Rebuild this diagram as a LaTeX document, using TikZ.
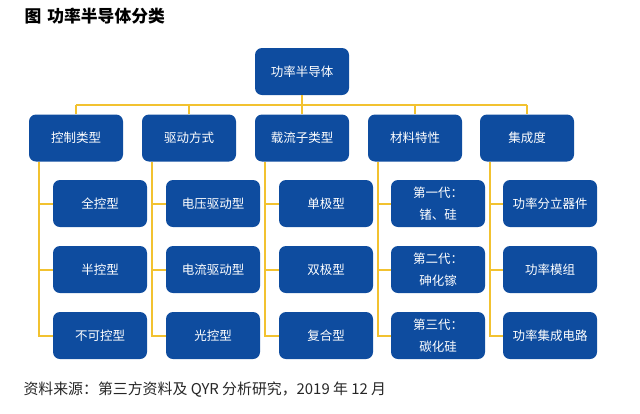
\documentclass[tikz,border=0pt]{standalone}
\usepackage{fontspec}
\setmainfont{Noto Sans CJK SC}
\definecolor{boxblue}{HTML}{0E4C9F}
\definecolor{lineyellow}{HTML}{F2C230}
\tikzset{
	catbox/.style={draw=none, fill=boxblue, rounded corners=7pt, minimum width=94pt, minimum height=47pt, text=white, font=\fontsize{12.5}{16}\selectfont, align=center, inner sep=0pt},
	genbox/.style={catbox, font=\fontsize{12.5}{22}\selectfont},
	link/.style={draw=lineyellow, line width=2pt}
}
\begin{document}
\begin{tikzpicture}[x=1pt, y=-1pt]
		\useasboundingbox (0, 0) rectangle (640, 413);
		\node[anchor=west, font=\fontsize{16.8}{18}\selectfont\bfseries] (title) at (21, 16) {图\hspace{6pt}功率半导体分类};
		\node[catbox] (root) at (302, 71.5) {功率半导体};
		% first level
		\node[catbox] (ctrl) at (76, 138) {控制类型};
		\node[catbox] (drive) at (189, 138) {驱动方式};
		\node[catbox] (carrier) at (302, 138) {载流子类型};
		\node[catbox] (mat) at (415, 138) {材料特性};
		\node[catbox] (integ) at (527, 138) {集成度};
		\coordinate (busl) at (76, 104.5);
		\coordinate (busr) at (527, 104.5);
		\draw[link] (busl) -- (busr);
		\draw[link] (root.south) -- (root.south |- busl);
		\draw[link] (ctrl.north) -- (ctrl.north |- busl);
		\draw[link] (drive.north) -- (drive.north |- busl);
		\draw[link] (carrier.north) -- (carrier.north |- busl);
		\draw[link] (mat.north) -- (mat.north |- busl);
		\draw[link] (integ.north) -- (integ.north |- busl);
		% second level
		\node[catbox] (full) at (100, 203.5) {全控型};
		\node[catbox] (half) at (100, 269.5) {半控型};
		\node[catbox] (none) at (100, 335.5) {不可控型};
		\node[catbox] (volt) at (213, 203.5) {电压驱动型};
		\node[catbox] (curr) at (213, 269.5) {电流驱动型};
		\node[catbox] (light) at (213, 335.5) {光控型};
		\node[catbox] (uni) at (326, 203.5) {单极型};
		\node[catbox] (bi) at (326, 269.5) {双极型};
		\node[catbox] (comp) at (326, 335.5) {复合型};
		\node[genbox] (gen1) at (438, 203.5) {第一代：\\锗、硅};
		\node[genbox] (gen2) at (438, 269.5) {第二代：\\砷化镓};
		\node[genbox] (gen3) at (438, 335.5) {第三代：\\碳化硅};
		\node[catbox] (discrete) at (550, 203.5) {功率分立器件};
		\node[catbox] (module) at (550, 269.5) {功率模组};
		\node[catbox] (ic) at (550, 335.5) {功率集成电路};
		% trunks
		\draw[link] ([xshift=10pt]ctrl.south west) |- (none.west);
		\draw[link] ([xshift=10pt]ctrl.south west |- full.west) -- (full.west);
		\draw[link] ([xshift=10pt]ctrl.south west |- half.west) -- (half.west);
		\draw[link] ([xshift=10pt]drive.south west) |- (light.west);
		\draw[link] ([xshift=10pt]drive.south west |- volt.west) -- (volt.west);
		\draw[link] ([xshift=10pt]drive.south west |- curr.west) -- (curr.west);
		\draw[link] ([xshift=10pt]carrier.south west) |- (comp.west);
		\draw[link] ([xshift=10pt]carrier.south west |- uni.west) -- (uni.west);
		\draw[link] ([xshift=10pt]carrier.south west |- bi.west) -- (bi.west);
		\draw[link] ([xshift=10pt]mat.south west) |- (gen3.west);
		\draw[link] ([xshift=10pt]mat.south west |- gen1.west) -- (gen1.west);
		\draw[link] ([xshift=10pt]mat.south west |- gen2.west) -- (gen2.west);
		\draw[link] ([xshift=10pt]integ.south west) |- (ic.west);
		\draw[link] ([xshift=10pt]integ.south west |- discrete.west) -- (discrete.west);
		\draw[link] ([xshift=10pt]integ.south west |- module.west) -- (module.west);
		\node[anchor=west, text=black!85, font=\fontsize{14.9}{16}\selectfont] (source) at (20, 390) {资料来源：第三方资料及 QYR 分析研究，2019 年 12 月};
\end{tikzpicture}
\end{document}
